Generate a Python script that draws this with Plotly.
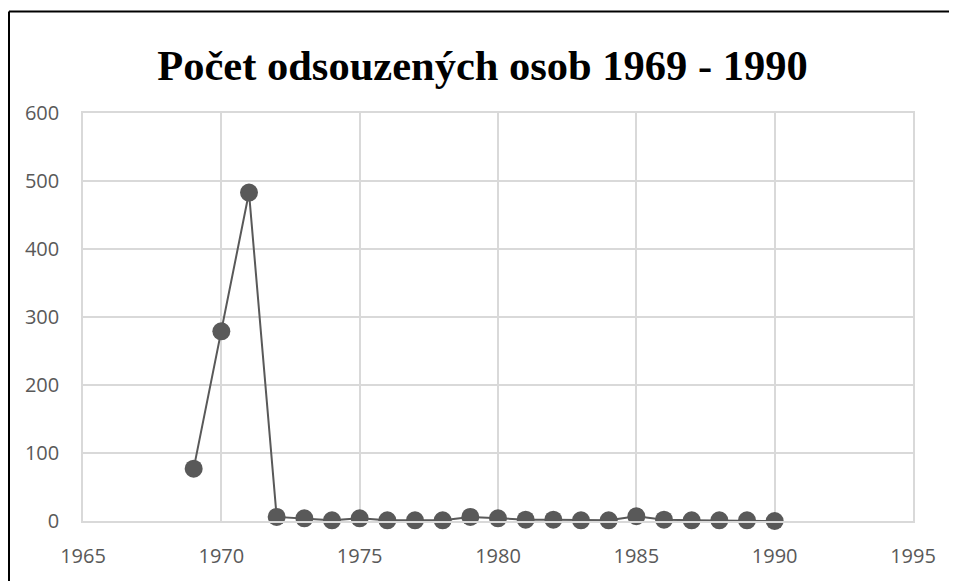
import plotly.graph_objects as go

years = list(range(1969, 1991))
convicted = [77, 279, 483, 6, 4, 1, 4, 1, 1, 1, 6, 4, 2, 2, 1, 1, 7, 2, 1, 1, 1, 0]

title_text = "Počet odsouzených osob 1969 - 1990"
x_ticks = [1965, 1970, 1975, 1980, 1985, 1990, 1995]
y_ticks = [0, 100, 200, 300, 400, 500, 600]

grey = "#595959"
grid = "#d9d9d9"

W, H = 949, 573
L, R, T, B = 75, 44, 105, 57.5
pw = W - L - R
ph = H - T - B

fig = go.Figure()
fig.add_trace(go.Scatter(
    x=years, y=convicted, mode="lines+markers",
    line=dict(color=grey, width=2),
    marker=dict(color=grey, size=18),
    showlegend=False, cliponaxis=False,
))

left_x = (1 - L) / pw
top_y = (H - B - 3) / ph

fig.update_layout(
    width=W, height=H,
    margin=dict(l=L, r=R, t=T, b=B),
    paper_bgcolor="white", plot_bgcolor="white",
    title=dict(text=title_text, x=0.5, xanchor="center", xref="container",
               y=1 - 57.5 / H, yref="container", yanchor="middle",
               font=dict(family="Liberation Serif", size=42.5, color="black", weight="bold")),
    font=dict(family="Open Sans", size=20, color=grey),
    xaxis=dict(range=[1965, 1995], tickvals=x_ticks, ticktext=[str(v) for v in x_ticks],
               showgrid=True, gridcolor=grid, gridwidth=1.5, zeroline=False,
               showline=True, linecolor=grid, linewidth=1.5, mirror=True,
               ticks="outside", ticklen=16, tickcolor="rgba(0,0,0,0)"),
    yaxis=dict(range=[0, 600], tickvals=y_ticks, ticktext=[str(v) for v in y_ticks],
               showgrid=True, gridcolor=grid, gridwidth=1.5, zeroline=False,
               showline=True, linecolor=grid, linewidth=1.5, mirror=True,
               ticks="outside", ticklen=18, tickcolor="rgba(0,0,0,0)"),
    shapes=[
        dict(type="line", xref="paper", yref="paper",
             x0=left_x, x1=1.3, y0=top_y, y1=top_y,
             line=dict(color="black", width=2), layer="below"),
        dict(type="line", xref="paper", yref="paper",
             x0=left_x, x1=left_x, y0=-0.3, y1=top_y,
             line=dict(color="black", width=2), layer="below"),
    ],
)

fig.write_html("out.html")
